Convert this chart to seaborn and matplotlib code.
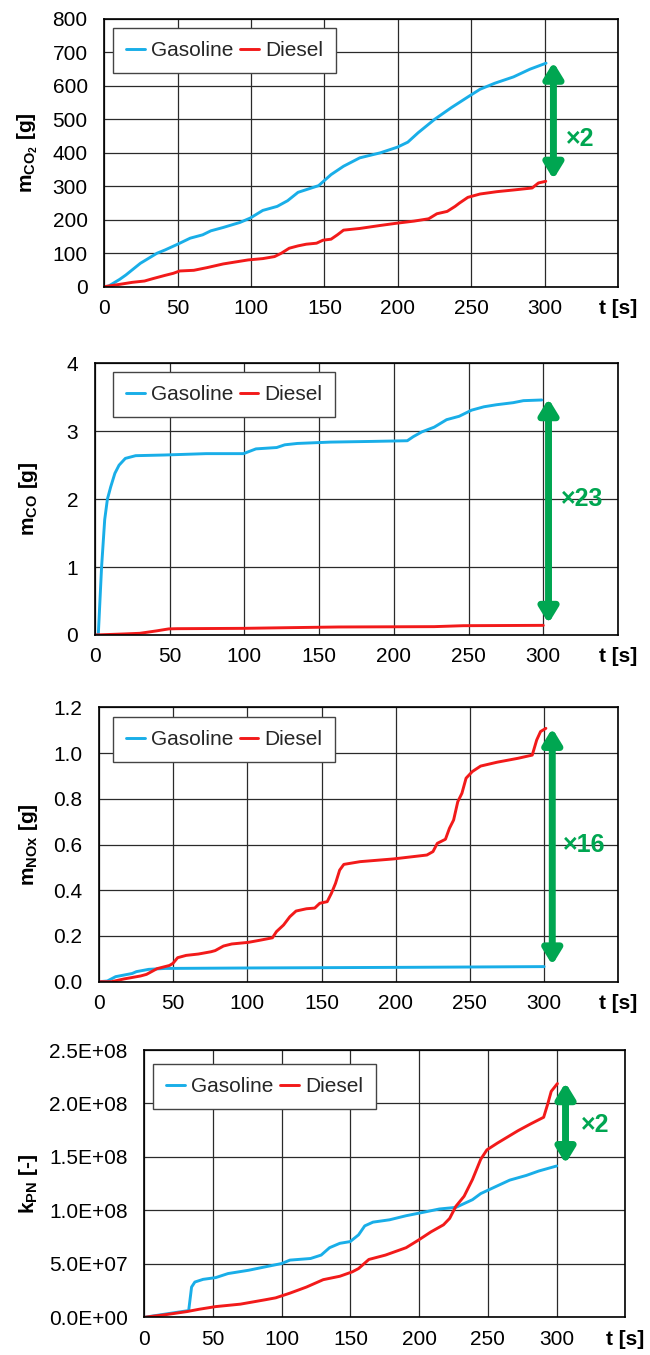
import numpy as np
import pandas as pd
import matplotlib
matplotlib.use("Agg")
import matplotlib.pyplot as plt
import matplotlib.transforms as mtransforms
import seaborn as sns

# ---------------- data ----------------
fuels = ["Gasoline", "Diesel"]
x_ticks = [0, 50, 100, 150, 200, 250, 300, 350]
x_tick_labels = ["0", "50", "100", "150", "200", "250", "300", "t [s]"]

# CO2 [g]
co2_gas_t = [0, 3, 10.5, 14.7, 24.6, 35.9, 41.5, 50, 58.5, 67, 72.6, 81, 92.4, 99.4, 108, 117.8, 124.9, 132,
             137.6, 146, 154.5, 163, 174, 188, 199.7, 206.8, 213.8, 225, 236.4, 247.7, 256, 266, 278.8, 290, 301]
co2_gas = [0, 2, 22, 35, 70, 100, 110, 127, 145, 155, 167, 177, 192, 205, 228, 240, 257, 282,
           290, 302, 335, 360, 385, 400, 417, 432, 460, 500, 535, 567, 590, 608, 627, 650, 668]
co2_die_t = [0, 10.5, 19, 27.4, 33, 41.5, 47, 51.4, 61, 70, 81, 98, 108, 116, 120.6, 126, 132, 137.6, 144.6,
             149, 154.5, 158.8, 163, 174, 188, 199.7, 211, 221, 226.6, 233.6, 239, 242, 247.7, 256, 267.5,
             278.8, 291.5, 295.8, 300.8]
co2_die = [0, 7, 13, 17, 24, 34, 40, 47, 49, 57, 68, 80, 84, 90, 100, 115, 122, 127, 130,
           139, 142, 155, 169, 174, 183, 190, 196, 203, 218, 225, 240, 250, 267, 277, 284,
           289, 295, 310, 315]
co2_ticks = [0, 100, 200, 300, 400, 500, 600, 700, 800]
co2_tick_labels = ["0", "100", "200", "300", "400", "500", "600", "700", "800"]

# CO [g]
co_gas_t = [0, 2.2, 4.4, 6.5, 8.3, 10.5, 13.3, 16.1, 20.3, 27.2, 46.6, 74.4, 99.4, 107.7, 121.6, 127, 135.4,
            157.6, 185.4, 209, 213, 218.7, 227, 235.3, 243.7, 252, 260.3, 268.7, 279.8, 286.7, 299]
co_gas = [0, 0.0, 1.0, 1.7, 2.0, 2.18, 2.38, 2.5, 2.6, 2.64, 2.65, 2.67, 2.67, 2.74, 2.76, 2.8, 2.82,
          2.84, 2.85, 2.86, 2.92, 2.99, 3.06, 3.17, 3.22, 3.31, 3.36, 3.39, 3.42, 3.45, 3.46]
co_die_t = [0, 18.9, 30, 41, 49.4, 55, 99.4, 130, 163, 227, 246.5, 300]
co_die = [0, 0.015, 0.025, 0.06, 0.09, 0.093, 0.098, 0.108, 0.118, 0.123, 0.137, 0.142]
co_ticks = [0, 1, 2, 3, 4]
co_tick_labels = ["0", "1", "2", "3", "4"]

# NOx [g]
nox_gas_t = [0, 5.6, 11.2, 16.8, 22.4, 25.2, 33.5, 44.7, 100.6, 212, 300]
nox_gas = [0, 0.003, 0.022, 0.029, 0.036, 0.044, 0.054, 0.058, 0.060, 0.063, 0.066]
nox_die_t = [0, 8.4, 16.8, 28, 32, 39.1, 47.5, 49.8, 53, 58.7, 67, 75.5, 78.3, 83.9, 89.5, 100.6, 109, 116.9,
             119.6, 124.4, 128.6, 132.8, 139.8, 145.4, 148.8, 153.8, 156.6, 159.4, 162.2, 165, 176, 198.6,
             221, 225.1, 228, 233.5, 236.2, 239, 241.8, 244.6, 247.4, 251.6, 257.2, 268.4, 282.4, 292, 295,
             297.6, 301.2]
nox_die = [0, 0, 0.012, 0.025, 0.032, 0.057, 0.071, 0.08, 0.105, 0.115, 0.121, 0.131, 0.136, 0.156, 0.165,
           0.172, 0.182, 0.192, 0.219, 0.248, 0.284, 0.309, 0.319, 0.322, 0.343, 0.35, 0.386, 0.43, 0.488,
           0.513, 0.525, 0.537, 0.554, 0.569, 0.605, 0.623, 0.671, 0.707, 0.787, 0.824, 0.89, 0.919, 0.943,
           0.96, 0.977, 0.991, 1.057, 1.094, 1.108]
nox_ticks = [0, 0.2, 0.4, 0.6, 0.8, 1.0, 1.2]
nox_tick_labels = ["0.0", "0.2", "0.4", "0.6", "0.8", "1.0", "1.2"]

# PN [-] (values in 1e8)
pn_gas_t = [0, 15.7, 32.3, 34.4, 36.8, 42.8, 51.9, 60.9, 75.9, 88, 100, 106, 121, 128.7, 134.8, 142.3, 149.8,
            155.9, 160.4, 166.4, 178.5, 190.5, 202.6, 214.7, 226.7, 238.8, 244.8, 253.8, 265.9, 278, 287, 300]
pn_gas = [0, 0.031, 0.063, 0.283, 0.33, 0.355, 0.371, 0.409, 0.44, 0.472, 0.503, 0.535, 0.55, 0.582, 0.651,
          0.692, 0.708, 0.771, 0.855, 0.89, 0.912, 0.95, 0.981, 1.013, 1.028, 1.1, 1.157, 1.211, 1.283, 1.327,
          1.368, 1.415]
pn_die_t = [0, 15.7, 30.8, 39.8, 51.9, 69.9, 88, 95.6, 106, 118, 130.2, 142.3, 151.3, 155.9, 163.4, 175.5,
            190.5, 199.6, 208.6, 217.7, 222.2, 226.7, 232.7, 238.8, 244.8, 249.3, 256.9, 271.9, 281, 290.6,
            293.6, 296.1, 300.6]
pn_die = [0, 0.025, 0.053, 0.075, 0.1, 0.123, 0.164, 0.182, 0.226, 0.283, 0.352, 0.384, 0.425, 0.456, 0.541,
          0.582, 0.651, 0.723, 0.799, 0.865, 0.925, 1.038, 1.132, 1.289, 1.478, 1.566, 1.629, 1.745, 1.808,
          1.871, 1.997, 2.113, 2.186]
pn_scale = 1e8
pn_ticks = [0, 0.5e8, 1.0e8, 1.5e8, 2.0e8, 2.5e8]
pn_tick_labels = ["0.0E+00", "5.0E+07", "1.0E+08", "1.5E+08", "2.0E+08", "2.5E+08"]

# ratio annotations: (x, y_low, y_high, label, label_x, label_y)
co2_ratio = (306, 321, 671, "×2", 324, 442)
co_ratio = (303.5, 0.17, 3.48, "×23", 326, 2.0)
nox_ratio = (305.5, 0.073, 1.108, "×16", 327, 0.598)
pn_ratio = (306.5, 1.437e8, 2.195e8, "×2", 328, 1.8e8)

# ---------------- style ----------------
sns.set_theme(style="white")
plt.rcParams["font.family"] = ["Liberation Sans", "DejaVu Sans"]
plt.rcParams["mathtext.fontset"] = "custom"
plt.rcParams["mathtext.rm"] = "Liberation Sans:bold"
plt.rcParams["mathtext.bf"] = "Liberation Sans:bold"
plt.rcParams["mathtext.it"] = "Liberation Sans:bold"
plt.rcParams["mathtext.default"] = "bf"

FS = 15
GAS_C = "#19AEE8"
DIE_C = "#F21A1A"
GREEN = "#00A651"
palette = {"Gasoline": GAS_C, "Diesel": DIE_C}

W, H = 650, 1355
fig = plt.figure(figsize=(W / 100, H / 100), dpi=100)

def frac(left, top, right, bottom):
    return [left / W, 1 - bottom / H, (right - left) / W, (bottom - top) / H]

panels = [
    dict(rect=frac(104.3, 19, 618, 286.7), gt=co2_gas_t, gv=co2_gas, dt=co2_die_t, dv=co2_die, scale=1,
         ylim=(0, 800), yt=co2_ticks, ytl=co2_tick_labels, ylabel=r"$m_{CO_2}$ [g]", ratio=co2_ratio,
         leg=(9, 9)),
    dict(rect=frac(95, 363.3, 618, 635), gt=co_gas_t, gv=co_gas, dt=co_die_t, dv=co_die, scale=1,
         ylim=(0, 4), yt=co_ticks, ytl=co_tick_labels, ylabel=r"$m_{CO}$ [g]", ratio=co_ratio,
         leg=(18, 9)),
    dict(rect=frac(99, 707.3, 618.3, 981.7), gt=nox_gas_t, gv=nox_gas, dt=nox_die_t, dv=nox_die, scale=1,
         ylim=(0, 1.2), yt=nox_ticks, ytl=nox_tick_labels, ylabel=r"$m_{NOx}$ [g]", ratio=nox_ratio,
         leg=(14, 10)),
    dict(rect=frac(144.3, 1050, 625.3, 1317.3), gt=pn_gas_t, gv=pn_gas, dt=pn_die_t, dv=pn_die, scale=pn_scale,
         ylim=(0, 2.5e8), yt=pn_ticks, ytl=pn_tick_labels, ylabel=r"$k_{PN}$ [-]", ratio=pn_ratio,
         leg=(9, 14)),
]

for p in panels:
    ax = fig.add_axes(p["rect"])
    df = pd.concat([
        pd.DataFrame({"t": p["gt"], "v": np.array(p["gv"]) * p["scale"], "fuel": "Gasoline"}),
        pd.DataFrame({"t": p["dt"], "v": np.array(p["dv"]) * p["scale"], "fuel": "Diesel"}),
    ], ignore_index=True)
    sns.lineplot(data=df, x="t", y="v", hue="fuel", hue_order=fuels, palette=palette, ax=ax,
                 linewidth=2.1, sort=False, estimator=None, legend=True)
    ax.set_xlim(0, 350)
    ax.set_ylim(*p["ylim"])
    ax.set_xticks(x_ticks)
    ax.set_xticklabels(x_tick_labels)
    ax.get_xticklabels()[-1].set_fontweight("bold")
    ax.set_yticks(p["yt"])
    ax.set_yticklabels(p["ytl"])
    ax.tick_params(axis="both", length=0, labelsize=FS, colors="black")
    ax.tick_params(axis="x", pad=9)
    ax.tick_params(axis="y", pad=12)
    ax.grid(True, color="#2a2a2a", linewidth=0.9)
    ax.set_axisbelow(True)
    for s in ax.spines.values():
        s.set_visible(True)
        s.set_color("black")
        s.set_linewidth(1.2)
    ax.set_xlabel("")
    ax.set_ylabel(p["ylabel"], fontsize=FS, fontweight="bold", color="black")
    ax.yaxis.set_label_coords(28 / W, 0.5,
                              transform=mtransforms.blended_transform_factory(fig.transFigure, ax.transAxes))
    ax.yaxis.label.set_verticalalignment("center")

    # legend
    handles, labels = ax.get_legend_handles_labels()
    bb = ax.get_position()
    ox, oy = p["leg"]
    anchor = (bb.x0 + ox / W, bb.y1 - oy / H)
    ax.legend(handles, labels, loc="upper left", bbox_to_anchor=anchor, bbox_transform=fig.transFigure,
              ncol=2, fontsize=FS, frameon=True, fancybox=False, framealpha=1, edgecolor="#444444",
              borderpad=0.62, handlelength=0.9, handletextpad=0.3, columnspacing=0.3, borderaxespad=0)
    ax.get_legend().get_frame().set_linewidth(1.0)

    # ratio arrow
    rx, ylo, yhi, rlab, lx, ly = p["ratio"]
    ax.annotate("", xy=(rx, yhi), xytext=(rx, ylo),
                arrowprops=dict(arrowstyle="<|-|>,head_length=0.9,head_width=0.55", color=GREEN,
                                lw=5, mutation_scale=10, shrinkA=0, shrinkB=0))
    ax.text(lx, ly, rlab, color=GREEN, fontsize=18, fontweight="bold", ha="center", va="center")

fig.savefig("out.png", dpi=100)
